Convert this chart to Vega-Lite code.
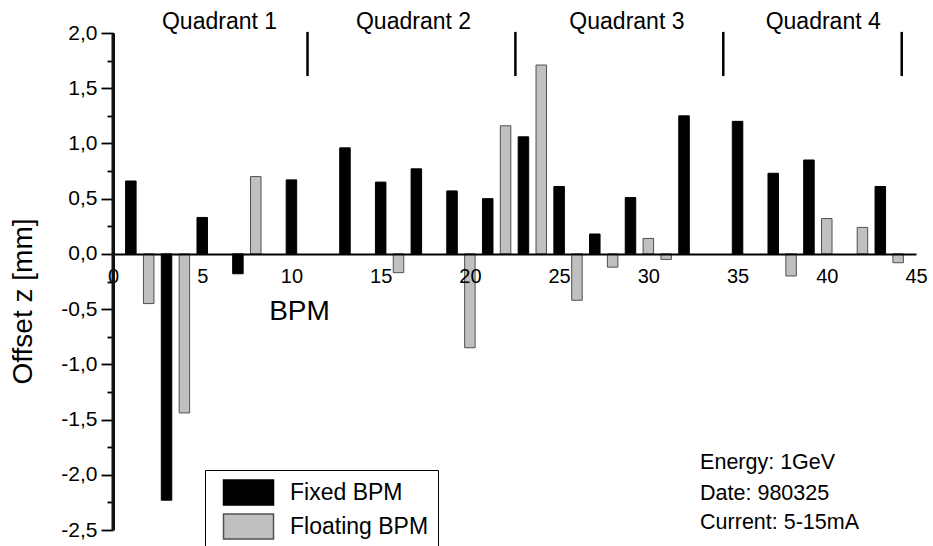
{
  "$schema": "https://vega.github.io/schema/vega-lite/v6.json",
  "width": 803,
  "height": 497,
  "autosize": {"type": "none"},
  "padding": {"left": 113, "top": 33, "right": 17, "bottom": 16},
  "background": "white",
  "config": {
    "view": {"stroke": null},
    "font": "Liberation Sans",
    "text": {"font": "Liberation Sans", "color": "black"}
  },
  "datasets": {
    "bars": [
      {"bpm": 1, "value": 0.66, "type": "Fixed BPM"},
      {"bpm": 3, "value": -2.23, "type": "Fixed BPM"},
      {"bpm": 5, "value": 0.33, "type": "Fixed BPM"},
      {"bpm": 7, "value": -0.18, "type": "Fixed BPM"},
      {"bpm": 10, "value": 0.67, "type": "Fixed BPM"},
      {"bpm": 13, "value": 0.96, "type": "Fixed BPM"},
      {"bpm": 15, "value": 0.65, "type": "Fixed BPM"},
      {"bpm": 17, "value": 0.77, "type": "Fixed BPM"},
      {"bpm": 19, "value": 0.57, "type": "Fixed BPM"},
      {"bpm": 21, "value": 0.5, "type": "Fixed BPM"},
      {"bpm": 23, "value": 1.06, "type": "Fixed BPM"},
      {"bpm": 25, "value": 0.61, "type": "Fixed BPM"},
      {"bpm": 27, "value": 0.18, "type": "Fixed BPM"},
      {"bpm": 29, "value": 0.51, "type": "Fixed BPM"},
      {"bpm": 32, "value": 1.25, "type": "Fixed BPM"},
      {"bpm": 35, "value": 1.2, "type": "Fixed BPM"},
      {"bpm": 37, "value": 0.73, "type": "Fixed BPM"},
      {"bpm": 39, "value": 0.85, "type": "Fixed BPM"},
      {"bpm": 43, "value": 0.61, "type": "Fixed BPM"},
      {"bpm": 2, "value": -0.45, "type": "Floating BPM"},
      {"bpm": 4, "value": -1.44, "type": "Floating BPM"},
      {"bpm": 8, "value": 0.7, "type": "Floating BPM"},
      {"bpm": 16, "value": -0.17, "type": "Floating BPM"},
      {"bpm": 20, "value": -0.85, "type": "Floating BPM"},
      {"bpm": 22, "value": 1.16, "type": "Floating BPM"},
      {"bpm": 24, "value": 1.71, "type": "Floating BPM"},
      {"bpm": 26, "value": -0.42, "type": "Floating BPM"},
      {"bpm": 28, "value": -0.12, "type": "Floating BPM"},
      {"bpm": 30, "value": 0.14, "type": "Floating BPM"},
      {"bpm": 31, "value": -0.05, "type": "Floating BPM"},
      {"bpm": 38, "value": -0.2, "type": "Floating BPM"},
      {"bpm": 40, "value": 0.32, "type": "Floating BPM"},
      {"bpm": 42, "value": 0.24, "type": "Floating BPM"},
      {"bpm": 44, "value": -0.08, "type": "Floating BPM"}
    ],
    "quad": [
      {"label": "Quadrant 1", "x": 5.97, "y": 2.1},
      {"label": "Quadrant 2", "x": 16.84, "y": 2.1},
      {"label": "Quadrant 3", "x": 28.8, "y": 2.1},
      {"label": "Quadrant 4", "x": 39.8, "y": 2.1}
    ],
    "seps": [
      {"x": 10.9, "y": 1.61, "y2": 2.01},
      {"x": 22.55, "y": 1.61, "y2": 2.01},
      {"x": 34.2, "y": 1.61, "y2": 2.01},
      {"x": 44.2, "y": 1.61, "y2": 2.01}
    ],
    "yline": [
      {"x": 0, "y": -2.5, "y2": 2.0}
    ],
    "notes": [
      {"t": "Energy: 1GeV", "x": 32.9, "y": -1.89},
      {"t": "Date: 980325", "x": 32.9, "y": -2.174},
      {"t": "Current: 5-15mA", "x": 32.9, "y": -2.44}
    ]
  },
  "resolve": {"axis": {"y": "independent"}},
  "layer": [
    {
      "data": {"name": "bars"},
      "mark": {"type": "bar", "orient": "vertical", "size": 10.5, "strokeWidth": 1},
      "encoding": {
        "x": {
          "field": "bpm", "type": "quantitative",
          "scale": {"domain": [0, 45], "nice": false, "zero": false, "padding": 0},
          "axis": {
            "title": "BPM", "values": [0, 5, 10, 15, 20, 25, 30, 35, 40, 45],
            "ticks": false, "offset": -276, "zindex": 1,
            "domainColor": "black", "domainWidth": 2,
            "labelFontSize": 20, "labelPadding": 12, "labelColor": "black",
            "labelFlush": false, "labelOverlap": false,
            "titleFontSize": 28, "titleFontWeight": "normal", "titleColor": "black",
            "titleX": 186, "titleY": 65, "titleAlign": "center", "titleBaseline": "alphabetic",
            "grid": false
          }
        },
        "y": {
          "field": "value", "type": "quantitative",
          "scale": {"domain": [-2.5, 2.0], "nice": false},
          "axis": {
            "orient": "left",
            "title": "Offset z [mm]",
            "values": [-2.5, -2.0, -1.5, -1.0, -0.5, 0, 0.5, 1.0, 1.5, 2.0],
            "labelExpr": "(datum.value < -0.001 ? '-' : '') + replace(format(abs(datum.value), '.1f'), '.', ',')",
            "tickSize": 12, "tickColor": "black", "tickWidth": 1.8, "zindex": 2,
            "domain": true, "domainColor": "#111111", "domainWidth": 3,
            "labelFontSize": 21, "labelPadding": 4, "labelColor": "black", "labelOverlap": false, "labelFlush": false,
            "titleFontSize": 28, "titleFontWeight": "normal", "titleColor": "black",
            "titleX": -90, "titleY": 268, "titleAlign": "center", "titleBaseline": "middle", "titleAngle": -90,
            "grid": false
          }
        },
        "color": {
          "field": "type", "type": "nominal",
          "scale": {"domain": ["Fixed BPM", "Floating BPM"], "range": ["#000000", "#c0c0c0"]},
          "legend": {
            "title": null, "orient": "none", "legendX": 92, "legendY": 437,
            "padding": 9, "fillColor": "white", "strokeColor": "black", "cornerRadius": 0,
            "symbolType": "M-2,-1H2V1H-2Z", "symbolSize": 625, "symbolStrokeWidth": 1.5,
            "symbolOffset": 21, "labelOffset": 28, "rowPadding": 3,
            "labelFontSize": 23, "labelColor": "black", "labelFont": "Liberation Sans"
          }
        },
        "stroke": {
          "field": "type", "type": "nominal",
          "scale": {"domain": ["Fixed BPM", "Floating BPM"], "range": ["#000000", "#505050"]},
          "legend": {
            "title": null, "orient": "none", "legendX": 92, "legendY": 437,
            "padding": 9, "fillColor": "white", "strokeColor": "black", "cornerRadius": 0,
            "symbolType": "M-2,-1H2V1H-2Z", "symbolSize": 625, "symbolStrokeWidth": 1.5,
            "symbolOffset": 21, "labelOffset": 28, "rowPadding": 3,
            "labelFontSize": 23, "labelColor": "black", "labelFont": "Liberation Sans"
          }
        }
      }
    },
    {
      "data": {"name": "seps"},
      "mark": {"type": "rule", "strokeWidth": 2.5, "color": "black"},
      "encoding": {
        "x": {"field": "x", "type": "quantitative"},
        "y": {
          "field": "y", "type": "quantitative",
          "axis": {
            "orient": "left", "title": null, "labels": false, "domain": false, "grid": false,
            "values": [-2.25, -1.75, -1.25, -0.75, -0.25, 0.25, 0.75, 1.25, 1.75],
            "tickSize": 6, "tickColor": "black", "tickWidth": 1.8
          }
        },
        "y2": {"field": "y2"}
      }
    },
    {
      "data": {"name": "yline"},
      "mark": {"type": "rule", "strokeWidth": 3, "color": "#111111"},
      "encoding": {
        "x": {"field": "x", "type": "quantitative"},
        "y": {"field": "y", "type": "quantitative", "axis": null},
        "y2": {"field": "y2"}
      }
    },
    {
      "data": {"name": "quad"},
      "mark": {"type": "text", "fontSize": 23, "align": "center", "baseline": "middle", "color": "black"},
      "encoding": {
        "x": {"field": "x", "type": "quantitative"},
        "y": {"field": "y", "type": "quantitative", "axis": null},
        "text": {"field": "label"}
      }
    },
    {
      "data": {"name": "notes"},
      "mark": {"type": "text", "fontSize": 21.5, "align": "left", "baseline": "middle", "color": "black"},
      "encoding": {
        "x": {"field": "x", "type": "quantitative"},
        "y": {"field": "y", "type": "quantitative", "axis": null},
        "text": {"field": "t"}
      }
    }
  ]
}
